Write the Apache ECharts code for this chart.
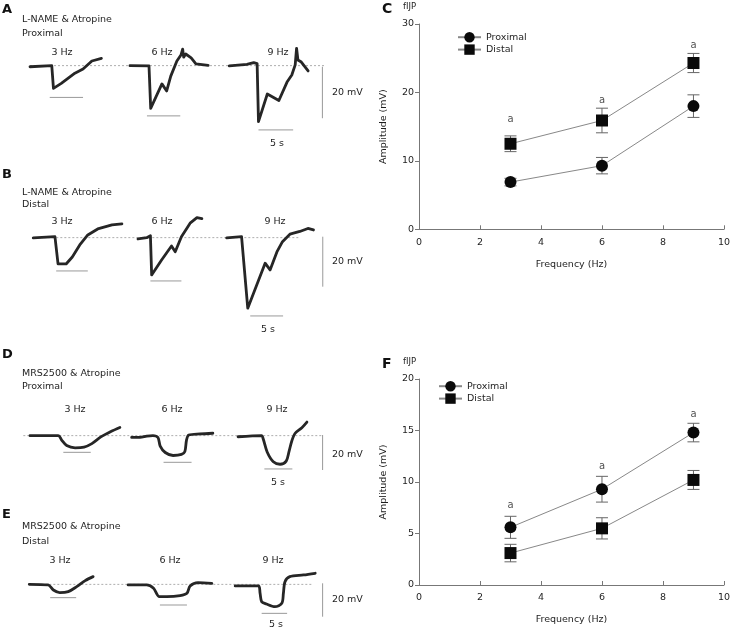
<!DOCTYPE html>
<html><head><meta charset="utf-8">
<script src="https://cdn.jsdelivr.net/npm/echarts@6/dist/echarts.min.js"></script>
<style>html,body{margin:0;padding:0;background:#fff}#c{width:733px;height:630px}</style>
</head><body><div id="c"></div>
<script>
// ---- Summary charts (C, F) ----
const freqs = [3, 6, 9];
const cProxMean = [6.9, 9.3, 18.0];
const cProxErr  = [0.55, 1.2, 1.65];
const cDistMean = [12.5, 15.9, 24.3];
const cDistErr  = [1.15, 1.8, 1.4];
const cSigY     = [16.0, 18.9, 26.8];
const fProxMean = [5.6, 9.3, 14.8];
const fProxErr  = [1.07, 1.25, 0.9];
const fDistMean = [3.1, 5.5, 10.2];
const fDistErr  = [0.85, 1.03, 0.92];
const fSigY     = [7.7, 11.5, 16.6];

// ---- Recorded traces: [time (s), membrane potential (mV)] ----
const A3 = [[0,-0.4],[3.2,0],[3.4,-0.1],[3.45,-8.7],[4.6,-6.8],[6.6,-2.9],[7.8,-1.3],[9.1,1.8],[10.5,2.8]];
const A6 = [[14.7,0],[17.5,-0.1],[17.75,-16.4],[19.4,-7.0],[20.1,-9.7],[20.7,-4.0],[21.6,1.8],[22.2,4.1],[22.45,6.4],[22.6,3.3],[22.9,4.5],[23.7,3.0],[24.4,0.7],[26.2,0.1]];
const A9 = [[29.3,-0.1],[31.9,0.5],[32.9,1.2],[33.4,0.8],[33.6,-21.5],[34.9,-10.9],[36.6,-13.4],[37.8,-6.3],[38.5,-3.6],[39.0,0.3],[39.2,6.7],[39.4,2.2],[39.9,1.4],[40.9,-2.0]];
const stimA = [[2.9,7.8,-12.2],[17.2,22.1,-19.3],[33.6,38.7,-24.7]];
const B3 = [[0.2,-0.1],[3.7,0.4],[4.0,-0.1],[4.2,-10.5],[4.5,-10.9],[5.5,-10.5],[6.5,-7.7],[7.7,-2.9],[9.0,1.1],[10.6,3.5],[12.9,5.1],[14.5,5.5]];
const B6 = [[17.1,-0.5],[18.5,0],[19.1,0.8],[19.3,-14.9],[20.9,-8.9],[22.5,-3.3],[23.1,-5.6],[24.1,0.4],[25.5,5.8],[26.6,8.0],[27.4,7.6]];
const B9 = [[31.4,-0.1],[33.8,0.4],[34.0,-0.2],[34.8,-28.2],[37.6,-10.2],[38.4,-12.9],[39.5,-5.7],[40.4,-1.6],[41.6,1.4],[43.2,2.5],[44.5,3.7],[45.4,3.1]];
const stimB = [[3.9,9.0,-13.3],[19.1,24.1,-17.3],[35.2,40.5,-31.3]];
const D3 = [[1.25,0],[6.3,0.1],[6.9,-2.5],[7.8,-5.6],[9.3,-6.9],[10.9,-6.5],[12.3,-4.5],[13.9,-0.7],[15.7,2.4],[17.3,4.7]];
const D6 = [[19.4,-1.0],[20.9,-1.0],[22.1,-0.2],[23.2,0.1],[24.1,-1.0],[24.5,-5.9],[25.4,-9.6],[26.8,-11.3],[28.3,-10.7],[28.9,-9.1],[29.2,-2.5],[29.6,0.4],[31.6,1.0],[33.9,1.4]];
const D9 = [[38.4,-0.6],[42.6,0.1],[42.9,-1.9],[43.6,-9.3],[44.7,-14.9],[45.9,-16.3],[47.0,-14.5],[47.5,-9.1],[48.0,-3.0],[48.6,1.4],[49.8,4.6],[50.7,7.8]];
const stimD = [[7.2,12.1,-9.5],[25.1,30.1,-15.2],[43.1,48.1,-19.0]];
const E3 = [[0.05,0],[3.6,-0.4],[4.6,-3.4],[5.8,-5.0],[7.4,-4.4],[9.0,-1.4],[10.6,2.2],[12.1,4.6]];
const E6 = [[18.7,-0.4],[22.2,-0.4],[23.5,-2.4],[24.6,-7.4],[26.0,-7.4],[28.5,-6.8],[29.8,-5.4],[30.4,-1.0],[31.9,1.0],[34.5,0.6]];
const E9 = [[38.9,-1.0],[43.3,-1.0],[43.6,-5.4],[43.9,-10.4],[44.8,-11.8],[46.4,-13.4],[47.7,-11.4],[48.0,-5.4],[48.3,1.6],[49.2,4.6],[51.8,5.6],[54.0,6.6]];
const stimE = [[4.0,8.9,-8.0],[24.7,29.8,-12.4],[43.9,48.7,-17.4]];
// baseline extent [t0, t1] and 20 mV calibration bar [t, top, bottom]
const baseA = [0, 43.4], calA = [43.0, -0.4, -20.2];
const baseB = [0.05, 43.2], calB = [46.9, 0.4, -19.6];
const baseD = [0.05, 53.3], calD = [53.5, 0.4, -19.6];
const baseE = [0.06, 53.6], calE = [55.4, 0.6, -19.4];

const FONT = '"DejaVu Sans", Verdana, sans-serif';
const TXT = '#1e1e1e';
const chart = echarts.init(document.getElementById('c'), null, {renderer: 'canvas'});

function sumAxisX(idx) {
  return {gridIndex: idx, type: 'value', min: 0, max: 10, interval: 2,
    name: 'Frequency (Hz)', nameLocation: 'middle', nameGap: 30,
    nameTextStyle: {color: TXT, fontSize: 9.5, fontFamily: FONT},
    axisLine: {lineStyle: {color: '#777'}}, axisTick: {inside: true, length: 4, lineStyle: {color: '#777'}},
    axisLabel: {color: TXT, fontSize: 9.5, fontFamily: FONT, margin: 8}, splitLine: {show: false}};
}
function sumAxisY(idx, max, interval) {
  return {gridIndex: idx, type: 'value', min: 0, max: max, interval: interval,
    name: 'Amplitude (mV)', nameLocation: 'middle', nameGap: 30,
    nameTextStyle: {color: TXT, fontSize: 9.5, fontFamily: FONT},
    axisLine: {show: true, lineStyle: {color: '#777'}}, axisTick: {show: true, inside: false, length: 4, lineStyle: {color: '#777'}},
    axisLabel: {color: TXT, fontSize: 9.5, fontFamily: FONT, margin: 5}, splitLine: {show: false}};
}
function hidX(idx, max) { return {gridIndex: idx, type: 'value', min: 0, max: max, show: false}; }
function hidY(idx, min, max) { return {gridIndex: idx, type: 'value', min: min, max: max, show: false}; }

function errSeries(idx, mean, err, z) {
  return {type: 'custom', xAxisIndex: idx, yAxisIndex: idx, z: z, silent: true,
    data: freqs.map((f, i) => [f, mean[i] - err[i], mean[i] + err[i]]),
    encode: {x: 0, y: [1, 2]},
    renderItem: function (params, api) {
      const x = api.value(0);
      const top = api.coord([x, api.value(2)]);
      const bot = api.coord([x, api.value(1)]);
      const hw = 6;
      const st = {stroke: '#666', lineWidth: 1};
      return {type: 'group', children: [
        {type: 'line', shape: {x1: top[0], y1: top[1], x2: bot[0], y2: bot[1]}, style: st},
        {type: 'line', shape: {x1: top[0] - hw, y1: top[1], x2: top[0] + hw, y2: top[1]}, style: st},
        {type: 'line', shape: {x1: bot[0] - hw, y1: bot[1], x2: bot[0] + hw, y2: bot[1]}, style: st}
      ]};
    }};
}
function meanSeries(idx, name, mean, symbol) {
  return {type: 'line', name: name, xAxisIndex: idx, yAxisIndex: idx, z: 5,
    data: freqs.map((f, i) => [f, mean[i]]),
    symbol: symbol, symbolSize: 12, showSymbol: true,
    itemStyle: {color: '#0a0a0a'}, lineStyle: {color: '#888', width: 1}};
}
function sigSeries(idx, ys) {
  return {type: 'scatter', xAxisIndex: idx, yAxisIndex: idx, symbolSize: 1,
    itemStyle: {color: 'rgba(0,0,0,0)'},
    data: freqs.map((f, i) => [f, ys[i]]),
    label: {show: true, position: 'inside', formatter: 'a', color: TXT, fontSize: 10, fontFamily: FONT}};
}
function traceSeries(idx, data, smooth) {
  return {type: 'line', xAxisIndex: idx, yAxisIndex: idx, data: data, showSymbol: false, symbol: 'none',
    smooth: smooth, lineStyle: {color: '#262626', width: 2.8, join: 'round', cap: 'round'}, z: 4};
}
function stimSeries(idx, stims) {
  return stims.map(s => ({type: 'line', xAxisIndex: idx, yAxisIndex: idx, symbol: 'none',
    data: [[s[0], s[2]], [s[1], s[2]]], lineStyle: {color: '#999', width: 1}}));
}
function baseSeries(idx, b) {
  return {type: 'line', xAxisIndex: idx, yAxisIndex: idx, symbol: 'none', z: 1,
    data: [[b[0], 0], [b[1], 0]], lineStyle: {color: '#999', width: 0.8, type: [2, 2]}};
}
function calSeries(idx, c) {
  return {type: 'line', xAxisIndex: idx, yAxisIndex: idx, symbol: 'none',
    data: [[c[0], c[1]], [c[0], c[2]]], lineStyle: {color: '#999', width: 1}};
}

function txt(x, y, s, opt) {
  opt = opt || {};
  return {type: 'text', x: x, y: y, silent: true, style: {text: s, fill: opt.bold ? '#111' : TXT,
    font: (opt.bold ? 'bold ' : '') + (opt.size || 9.5) + 'px ' + FONT,
    align: opt.align || 'left', verticalAlign: 'middle'}};
}

const graphics = [
  // Panel A
  txt(2, 10, 'A', {bold: true, size: 13}), txt(22, 20, 'L-NAME & Atropine'), txt(22, 34, 'Proximal'),
  txt(62, 53, '3 Hz', {align: 'center'}), txt(162, 53, '6 Hz', {align: 'center'}), txt(278, 53, '9 Hz', {align: 'center'}),
  txt(332, 93, '20 mV'), txt(277, 144, '5 s', {align: 'center'}),
  // Panel B
  txt(2, 175, 'B', {bold: true, size: 13}), txt(22, 193, 'L-NAME & Atropine'), txt(22, 205, 'Distal'),
  txt(62, 222, '3 Hz', {align: 'center'}), txt(162, 222, '6 Hz', {align: 'center'}), txt(275, 222, '9 Hz', {align: 'center'}),
  txt(332, 262, '20 mV'), txt(268, 330, '5 s', {align: 'center'}),
  // Panel D
  txt(2, 355, 'D', {bold: true, size: 13}), txt(22, 374, 'MRS2500 & Atropine'), txt(22, 387, 'Proximal'),
  txt(75, 410, '3 Hz', {align: 'center'}), txt(172, 410, '6 Hz', {align: 'center'}), txt(277, 410, '9 Hz', {align: 'center'}),
  txt(332, 455, '20 mV'), txt(278, 483, '5 s', {align: 'center'}),
  // Panel E
  txt(2, 515, 'E', {bold: true, size: 13}), txt(22, 527, 'MRS2500 & Atropine'), txt(22, 542, 'Distal'),
  txt(60, 561, '3 Hz', {align: 'center'}), txt(170, 561, '6 Hz', {align: 'center'}), txt(273, 561, '9 Hz', {align: 'center'}),
  txt(332, 600, '20 mV'), txt(276, 625, '5 s', {align: 'center'}),
  // Panels C, F
  txt(382, 9, 'C', {bold: true, size: 14}), txt(403, 7, 'fIJP', {size: 8.5}),
  txt(382, 364, 'F', {bold: true, size: 14}), txt(403, 362, 'fIJP', {size: 8.5})
];

const option = {
  animation: false,
  backgroundColor: '#fff',
  textStyle: {fontFamily: FONT},
  grid: [
    {left: 419, top: 24, width: 307, height: 205.3},
    {left: 419, top: 379, width: 307, height: 206},
    {left: 30, top: 39.7, width: 306, height: 104},
    {left: 32, top: 212.7, width: 310, height: 112.5},
    {left: 23, top: 418.2, width: 313.6, height: 61.25},
    {left: 29, top: 567.6, width: 307.4, height: 58.45}
  ],
  xAxis: [sumAxisX(0), sumAxisX(1), hidX(2, 45), hidX(3, 50), hidX(4, 56), hidX(5, 58)],
  yAxis: [sumAxisY(0, 30, 10), sumAxisY(1, 20, 5), hidY(2, -30, 10), hidY(3, -35, 10), hidY(4, -25, 10), hidY(5, -25, 10)],
  legend: [
    {data: ['Proximal', 'Distal'], orient: 'vertical', left: 452, top: 27, itemWidth: 23, itemHeight: 13, itemGap: 2,
      textStyle: {color: TXT, fontSize: 9.5, fontFamily: FONT}},
    {data: ['Proximal', 'Distal'], orient: 'vertical', left: 433, top: 376, itemWidth: 23, itemHeight: 13, itemGap: 2,
      textStyle: {color: TXT, fontSize: 9.5, fontFamily: FONT}}
  ],
  graphic: graphics,
  series: [].concat(
    [errSeries(0, cProxMean, cProxErr, 2), errSeries(0, cDistMean, cDistErr, 2),
     meanSeries(0, 'Proximal', cProxMean, 'circle'), meanSeries(0, 'Distal', cDistMean, 'rect'), sigSeries(0, cSigY),
     errSeries(1, fProxMean, fProxErr, 2), errSeries(1, fDistMean, fDistErr, 2),
     meanSeries(1, 'Proximal', fProxMean, 'circle'), meanSeries(1, 'Distal', fDistMean, 'rect'), sigSeries(1, fSigY)],
    [baseSeries(2, baseA), calSeries(2, calA), traceSeries(2, A3, false), traceSeries(2, A6, false), traceSeries(2, A9, false)], stimSeries(2, stimA),
    [baseSeries(3, baseB), calSeries(3, calB), traceSeries(3, B3, false), traceSeries(3, B6, false), traceSeries(3, B9, false)], stimSeries(3, stimB),
    [baseSeries(4, baseD), calSeries(4, calD), traceSeries(4, D3, 0.3), traceSeries(4, D6, 0.3), traceSeries(4, D9, 0.3)], stimSeries(4, stimD),
    [baseSeries(5, baseE), calSeries(5, calE), traceSeries(5, E3, 0.3), traceSeries(5, E6, 0.3), traceSeries(5, E9, 0.3)], stimSeries(5, stimE)
  )
};
chart.setOption(option);
</script>
</body></html>
